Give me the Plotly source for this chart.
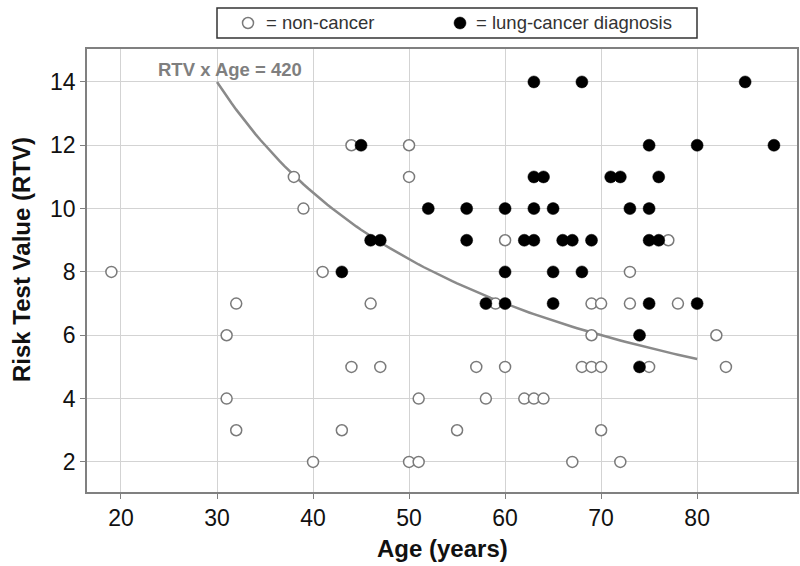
import numpy as np
import plotly.graph_objects as go

# Non-cancer (open circles)
non_age = [19, 31, 32, 31, 32, 38, 39, 40, 41, 43, 44, 44, 46, 47, 50, 50, 50, 51, 51,
           55, 57, 58, 59, 60, 60, 62, 63, 64, 67, 68, 69, 69, 69, 70, 70, 70, 72, 73, 73,
           75, 77, 78, 82, 83]
non_rtv = [8, 6, 7, 4, 3, 11, 10, 2, 8, 3, 12, 5, 7, 5, 12, 11, 2, 4, 2,
           3, 5, 4, 7, 9, 5, 4, 4, 4, 2, 5, 7, 6, 5, 7, 5, 3, 2, 8, 7,
           5, 9, 7, 6, 5]

# Lung-cancer diagnosis (filled circles)
lc_age = [63, 68, 85, 45, 75, 80, 88, 63, 64, 71, 72, 76, 52, 56, 60, 63, 65, 73, 75,
          46, 47, 56, 62, 63, 66, 67, 69, 75, 76, 43, 60, 65, 68, 58, 60, 65, 75, 80, 74, 74]
lc_rtv = [14, 14, 14, 12, 12, 12, 12, 11, 11, 11, 11, 11, 10, 10, 10, 10, 10, 10, 10,
          9, 9, 9, 9, 9, 9, 9, 9, 9, 9, 8, 8, 8, 8, 7, 7, 7, 7, 7, 6, 5]

# Reference curve RTV x Age = 420, drawn from age 30 to 80
curve_product = 420
curve_age = np.linspace(30, 80, 101)
curve_rtv = curve_product / curve_age

x_ticks = [20, 30, 40, 50, 60, 70, 80]
y_ticks = [2, 4, 6, 8, 10, 12, 14]

legend_labels = ["= non-cancer", "= lung-cancer diagnosis"]

FONT = "Liberation Sans, Arial, sans-serif"
W, H = 800, 566
ML, MR, MT, MB = 87, 3, 49, 74
PW, PH = W - ML - MR, H - MT - MB


def px(xpix):
    return (xpix - ML) / PW


def py(ypix):
    return (H - MB - ypix) / PH


fig = go.Figure()
fig.add_trace(go.Scatter(
    x=curve_age, y=curve_rtv, mode="lines",
    line=dict(color="#8a8a8a", width=2.5), showlegend=False, hoverinfo="skip"))
fig.add_trace(go.Scatter(
    x=non_age, y=non_rtv, mode="markers", name=legend_labels[0], showlegend=False,
    marker=dict(symbol="circle", size=11, color="white",
                line=dict(color="#7a7a7a", width=1.5))))
fig.add_trace(go.Scatter(
    x=lc_age, y=lc_rtv, mode="markers", name=legend_labels[1], showlegend=False,
    marker=dict(symbol="circle", size=12, color="black",
                line=dict(color="black", width=0.5))))

fig.add_annotation(x=31.35, y=14.38, text="<b>RTV x Age = 420</b>", showarrow=False,
                   xanchor="center", yanchor="middle",
                   font=dict(family=FONT, size=18.5, color="#7f7f7f"))

# Axis titles
fig.add_annotation(xref="paper", yref="paper", x=0.5, y=py(548), yanchor="middle",
                   text="<b>Age (years)</b>", showarrow=False,
                   font=dict(family=FONT, size=24, color="#111111"))
fig.add_annotation(xref="paper", yref="paper", x=px(21), y=py(260), xanchor="center",
                   yanchor="middle",
                   text="<b>Risk Test Value (RTV)</b>", showarrow=False, textangle=-90,
                   font=dict(family=FONT, size=24, color="#111111"))

# Legend box (drawn manually to match the reference layout)
fig.add_shape(type="rect", xref="paper", yref="paper",
              x0=px(217), x1=px(697), y0=py(38), y1=py(8),
              line=dict(color="#333333", width=1.5), fillcolor="white", layer="above")
r = 5.5
fig.add_shape(type="circle", xref="paper", yref="paper",
              x0=px(248 - r), x1=px(248 + r), y0=py(23 + r), y1=py(23 - r),
              line=dict(color="#7a7a7a", width=1.5), fillcolor="white", layer="above")
fig.add_shape(type="circle", xref="paper", yref="paper",
              x0=px(460 - 6), x1=px(460 + 6), y0=py(23 + 6), y1=py(23 - 6),
              line=dict(color="black", width=0.5), fillcolor="black", layer="above")
fig.add_annotation(xref="paper", yref="paper", x=px(264), y=py(23), xanchor="left",
                   yanchor="middle", text=legend_labels[0], showarrow=False,
                   font=dict(family=FONT, size=18.5, color="#333333"))
fig.add_annotation(xref="paper", yref="paper", x=px(474), y=py(23), xanchor="left",
                   yanchor="middle", text=legend_labels[1], showarrow=False,
                   font=dict(family=FONT, size=18.5, color="#333333"))

axis_common = dict(
    showgrid=True, gridcolor="#d3d3d3", gridwidth=1,
    showline=True, linecolor="#808080", linewidth=1.5, mirror=True,
    ticks="outside", ticklen=5, tickcolor="#808080", tickwidth=1,
    zeroline=False, automargin=False,
    tickfont=dict(family=FONT, size=23, color="#111111"),
)

fig.update_layout(
    width=W, height=H,
    margin=dict(l=ML, r=MR, t=MT, b=MB),
    paper_bgcolor="white", plot_bgcolor="white",
    font=dict(family=FONT),
    showlegend=False,
    xaxis=dict(range=[16.46, 90.4], tickvals=x_ticks, **axis_common),
    yaxis=dict(range=[1.05, 15.04], tickvals=y_ticks, **axis_common),
)

fig.write_html("out.html", config={"displayModeBar": False},
               post_script="document.body.style.margin='0';document.body.style.padding='0';")
